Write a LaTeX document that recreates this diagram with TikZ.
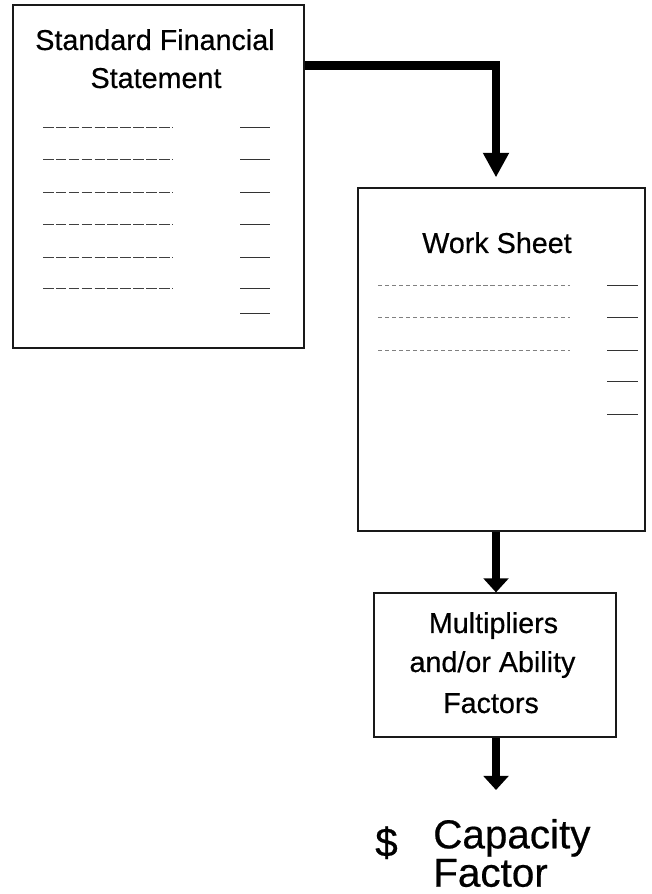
\documentclass[tikz,border=0pt]{standalone}
\usepackage{fontspec}
\setmainfont{Liberation Sans}[FakeBold=0.5]
\usetikzlibrary{arrows.meta}

\begin{document}
\begin{tikzpicture}
\tikzstyle{sheet}  = [rectangle, draw=black!90, line width=1pt, inner sep=0pt]
\tikzstyle{lbl}    = [inner sep=0pt, anchor=base, font=\fontsize{24.5}{29}\selectfont]
\tikzstyle{big}    = [inner sep=0pt, anchor=base west, font=\fontsize{34.5}{40}\selectfont]
\tikzstyle{entry}  = [line width=0.8pt, black!75, dash pattern=on 9pt off 2pt]
\tikzstyle{dotrow} = [line width=0.7pt, black!50, dash pattern=on 3.5pt off 2.5pt]
\tikzstyle{amount} = [line width=0.8pt, black!80]
\tikzstyle{flow}   = [line width=7.5pt, black, -{Triangle[width=21pt,length=12pt]}]
\tikzstyle{flowl}  = [line width=7.5pt, black, -{Triangle[width=21pt,length=21pt]}]
\useasboundingbox (0,0) rectangle (19.53,26.82);
\node[sheet, minimum width=8.73cm, minimum height=10.29cm] at (4.755, 21.525) (b_0) {};
\node[sheet, minimum width=8.61cm, minimum height=10.29cm] at (15.045, 16.035) (b_1) {};
\node[sheet, minimum width=7.26cm, minimum height=4.32cm] at (14.85, 6.87) (b_2) {};
\node[lbl] at (4.65, 25.32) (t_0) {Standard Financial};
\node[lbl] at (4.68, 24.18) (t_1) {Statement};
\node[lbl] at (14.91, 19.23) (t_2) {Work Sheet};
\node[lbl] at (14.805, 7.83) (t_3) {Multipliers};
\node[lbl] at (14.775, 6.66) (t_4) {and/or Ability};
\node[lbl] at (14.73, 5.43) (t_5) {Factors};
\node[big] at (11.25, 1.13) (t_6) {\$};
\node[big] at (12.99, 1.37) (t_7) {Capacity};
\node[big] at (12.99, 0.22) (t_8) {Factor};
\draw[entry] (1.29, 23.01) -- (5.19, 23.01);
\draw[entry] (1.29, 22.05) -- (5.19, 22.05);
\draw[entry] (1.29, 21.06) -- (5.19, 21.06);
\draw[entry] (1.29, 20.10) -- (5.19, 20.10);
\draw[entry] (1.29, 19.11) -- (5.19, 19.11);
\draw[entry] (1.29, 18.18) -- (5.19, 18.18);
\draw[amount] (7.20, 23.01) -- (8.10, 23.01);
\draw[amount] (7.20, 22.05) -- (8.10, 22.05);
\draw[amount] (7.20, 21.06) -- (8.10, 21.06);
\draw[amount] (7.20, 20.10) -- (8.10, 20.10);
\draw[amount] (7.20, 19.11) -- (8.10, 19.11);
\draw[amount] (7.20, 18.18) -- (8.10, 18.18);
\draw[amount] (7.20, 17.43) -- (8.10, 17.43);
\draw[dotrow] (11.34, 18.27) -- (17.10, 18.27);
\draw[dotrow] (11.34, 17.31) -- (17.10, 17.31);
\draw[dotrow] (11.34, 16.32) -- (17.10, 16.32);
\draw[amount] (18.21, 18.27) -- (19.14, 18.27);
\draw[amount] (18.21, 17.31) -- (19.14, 17.31);
\draw[amount] (18.21, 16.32) -- (19.14, 16.32);
\draw[amount] (18.21, 15.39) -- (19.14, 15.39);
\draw[amount] (18.21, 14.40) -- (19.14, 14.40);
\coordinate (c_0) at (14.88, 24.86);
\coordinate (c_1) at (14.88, 3.12);
\draw[flowl, shorten >=0.3cm] (b_0.east |- c_0) -- (c_0) -- (c_0 |- b_1.north);
\draw[flow] (c_0 |- b_1.south) -- (c_0 |- b_2.north);
\draw[flow] (c_0 |- b_2.south) -- (c_1);
\end{tikzpicture}
\end{document}
